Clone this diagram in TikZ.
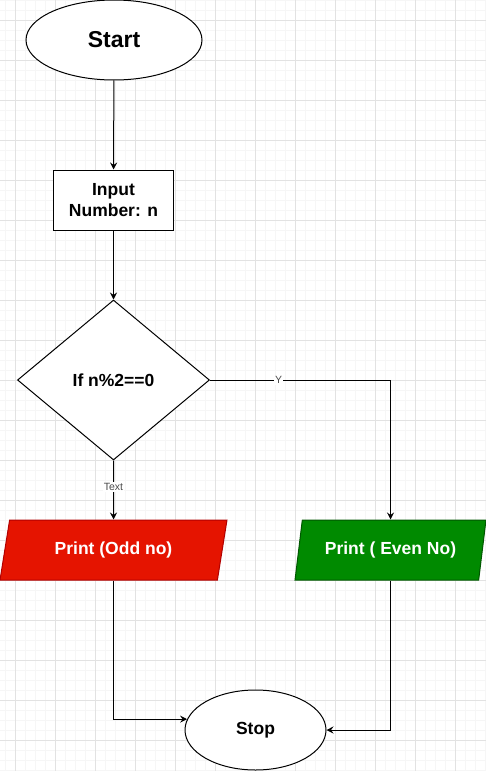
\documentclass[tikz,border=0pt]{standalone}
\usepackage{fontspec}
\setmainfont{Liberation Sans}
\usetikzlibrary{shapes.geometric, arrows.meta}

\definecolor{gridminor}{HTML}{F6F6F6}
\definecolor{gridmajor}{HTML}{E2E2E2}
\definecolor{oddfill}{HTML}{E51400}
\definecolor{odddraw}{HTML}{B20000}
\definecolor{evenfill}{HTML}{008A00}
\definecolor{evendraw}{HTML}{005700}

\tikzstyle{terminal} = [ellipse, draw, fill=white, line width=1pt, inner sep=0pt, text centered, font=\fontsize{17.5}{21}\selectfont\bfseries]
\tikzstyle{process} = [rectangle, draw, fill=white, line width=1pt, minimum width=120pt, minimum height=60pt, align=center, font=\fontsize{17.5}{21}\selectfont\bfseries]
\tikzstyle{decision} = [diamond, draw, fill=white, line width=1pt, minimum width=192pt, minimum height=160pt, inner sep=0pt, text centered, font=\fontsize{17.5}{21}\selectfont\bfseries]
\tikzstyle{io} = [trapezium, trapezium left angle=71.57, trapezium right angle=108.43, trapezium stretches=true, draw, line width=1pt, minimum height=60pt, inner sep=0pt, text=white, text centered, font=\fontsize{17.5}{21}\selectfont\bfseries]
\tikzstyle{flow} = [draw, line width=1pt, -{Stealth[length=7pt, width=7pt, inset=2.5pt]}]
\tikzstyle{edgelabel} = [fill=white, inner sep=1pt, text=black!70, font=\fontsize{10.5}{12}\selectfont]

\begin{document}
\begin{tikzpicture}[x=1pt, y=-1pt]

    % background grid
    \useasboundingbox (0,0) rectangle (486,771);
    \fill[white] (0,0) rectangle (486,771);
    \foreach \gx in {5,15,...,485} \draw[gridminor, line width=1pt] (\gx,0) -- (\gx,771);
    \foreach \gy in {0,10,...,770} \draw[gridminor, line width=1pt] (0,\gy) -- (486,\gy);
    \foreach \gx in {15,55,...,455} \draw[gridmajor, line width=1pt] (\gx,0) -- (\gx,771);
    \foreach \gy in {20,60,...,740} \draw[gridmajor, line width=1pt] (0,\gy) -- (486,\gy);

    %  nodes
    \node [terminal, minimum width=176pt, minimum height=80pt, font=\fontsize{23}{27}\selectfont\bfseries] (start) at (114,40) {Start};
    \node [process] (input) at (113.5,200) {Input\\Number: n};
    \node [decision] (cond) at (113.5,380) {If n\%2==0};

   %-------------------------------------------------------------
    \node [io, fill=oddfill, draw=odddraw, minimum width=227pt] (odd) at (113.5,550) {Print (Odd no)};
    \node [io, fill=evenfill, draw=evendraw, minimum width=191pt] (even) at (390.5,550) {Print ( Even No)};

    \node [terminal, minimum width=141pt, minimum height=80pt] (stop) at (255.5,730) {Stop};

   %-------------------------------------------------------------
    \draw[flow] (start) -- (input);
    \draw[flow] (input) -- (cond);
    \draw[flow] (cond.south) -- node[edgelabel, pos=0.45] {Text} (odd.north);
    \draw[flow] (cond.east) -| node[edgelabel, pos=0.19] {Y} (even.north);
    \draw[flow] (odd.south) |- (stop.171.6);
    \draw[flow] (even.south) |- (stop.east);

\end{tikzpicture}
\end{document}
